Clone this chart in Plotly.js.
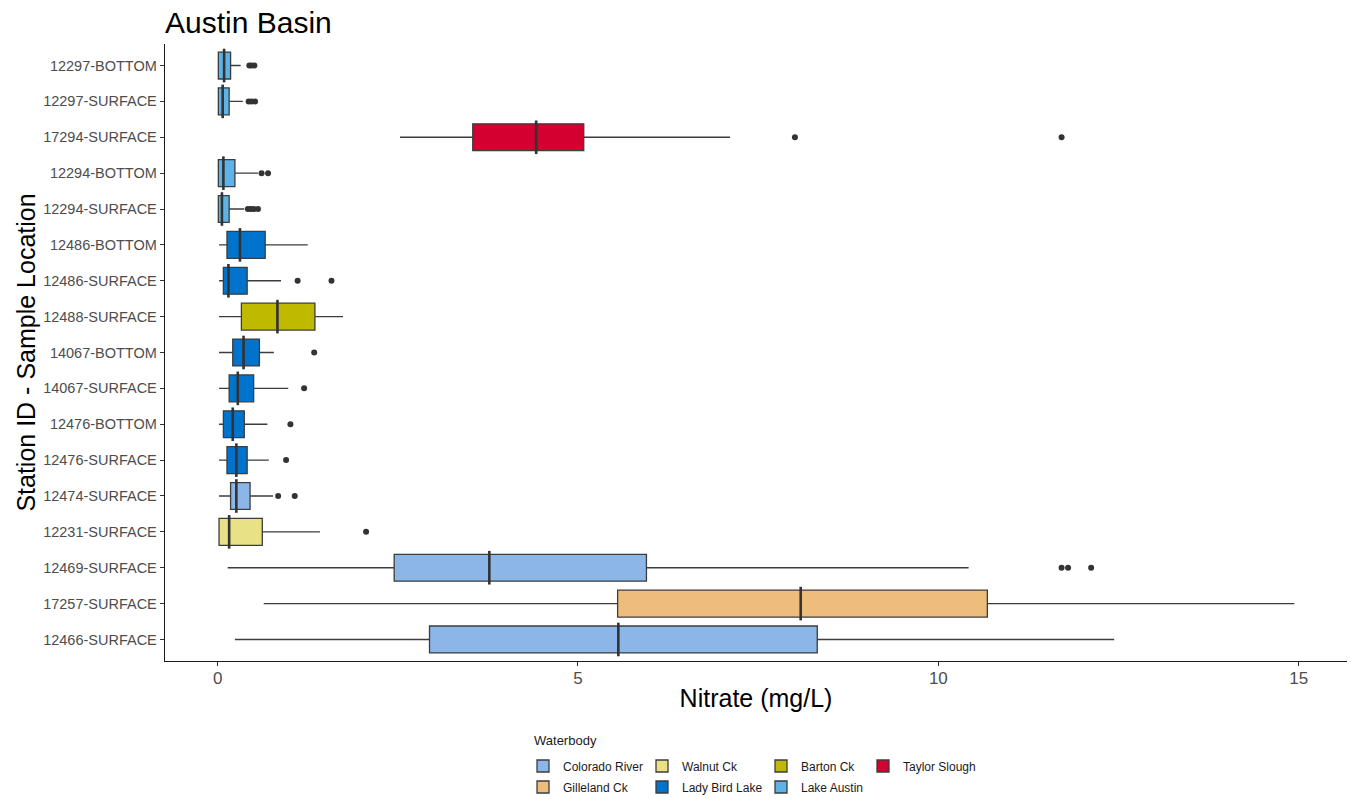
<!DOCTYPE html>
<html>
<head>
<meta charset="utf-8">
<script src="https://cdn.plot.ly/plotly-3.0.1.min.js"></script>
<style>html,body{margin:0;padding:0;background:#fff;}#chart{width:1351px;height:799px;}</style>
</head>
<body>
<div id="chart"></div>
<script>
// Stations listed top to bottom as drawn
const stations = ["12297-BOTTOM","12297-SURFACE","17294-SURFACE","12294-BOTTOM","12294-SURFACE","12486-BOTTOM","12486-SURFACE","12488-SURFACE","14067-BOTTOM","14067-SURFACE","12476-BOTTOM","12476-SURFACE","12474-SURFACE","12231-SURFACE","12469-SURFACE","17257-SURFACE","12466-SURFACE"];
const waterbody = ["Lake Austin","Lake Austin","Taylor Slough","Lake Austin","Lake Austin","Lady Bird Lake","Lady Bird Lake","Barton Ck","Lady Bird Lake","Lady Bird Lake","Lady Bird Lake","Lady Bird Lake","Colorado River","Walnut Ck","Colorado River","Gilleland Ck","Colorado River"];
const lowerWhisker = [0.01,0.01,2.53,0.01,0.01,0.02,0.02,0.02,0.02,0.02,0.02,0.02,0.02,0.02,0.14,0.64,0.24];
const q1 =           [0.01,0.01,3.54,0.01,0.01,0.13,0.08,0.33,0.21,0.16,0.08,0.13,0.18,0.02,2.45,5.55,2.94];
const median =       [0.09,0.07,4.42,0.08,0.06,0.31,0.15,0.83,0.36,0.28,0.21,0.26,0.26,0.16,3.77,8.09,5.56];
const q3 =           [0.18,0.16,5.08,0.24,0.16,0.66,0.41,1.35,0.58,0.50,0.37,0.41,0.45,0.62,5.95,10.68,8.32];
const upperWhisker = [0.32,0.35,7.11,0.56,0.37,1.25,0.88,1.74,0.78,0.98,0.69,0.71,0.77,1.42,10.42,14.94,12.44];

// Outliers
const outlierStation = ["12297-BOTTOM","12297-BOTTOM","12297-BOTTOM","12297-SURFACE","12297-SURFACE","12297-SURFACE","17294-SURFACE","17294-SURFACE","12294-BOTTOM","12294-BOTTOM","12294-SURFACE","12294-SURFACE","12294-SURFACE","12294-SURFACE","12486-SURFACE","12486-SURFACE","14067-BOTTOM","14067-SURFACE","12476-BOTTOM","12476-SURFACE","12474-SURFACE","12474-SURFACE","12231-SURFACE","12469-SURFACE","12469-SURFACE","12469-SURFACE"];
const outlierValue = [0.44,0.47,0.51,0.43,0.47,0.52,8.01,11.71,0.61,0.70,0.42,0.46,0.50,0.56,1.11,1.58,1.34,1.20,1.01,0.95,0.84,1.07,2.06,11.71,11.80,12.12];

const waterbodies = ["Colorado River","Gilleland Ck","Walnut Ck","Lady Bird Lake","Barton Ck","Lake Austin","Taylor Slough"];
const colors = ["#8db6e8","#efbd7b","#e8e186","#0074cc","#bfba00","#5cb3e8","#d4002f"];
// legend slot (column, row) of each waterbody in the key
const legendCol = [0, 0, 1, 1, 2, 2, 3];
const legendRow = [0, 1, 0, 1, 0, 1, 0];

const traces = [];
waterbodies.forEach((wb, k) => {
  const idx = stations.map((s, i) => i).filter(i => waterbody[i] === wb);
  traces.push({
    type: "box",
    orientation: "h",
    name: wb,
    legend: k === 0 ? "legend" : "legend" + (k + 1),
    y: idx.map(i => stations[i]),
    lowerfence: idx.map(i => lowerWhisker[i]),
    q1: idx.map(i => q1[i]),
    median: idx.map(i => median[i]),
    q3: idx.map(i => q3[i]),
    upperfence: idx.map(i => upperWhisker[i]),
    boxpoints: false,
    width: 0.75,
    whiskerwidth: 0,
    fillcolor: colors[k],
    line: {color: "#3c3c3c", width: 1.3},
    hoverinfo: "x"
  });
});
// thicker median bars (ggplot draws the median at double width)
traces.push({
  type: "scatter",
  mode: "markers",
  x: median,
  y: stations,
  marker: {symbol: "line-ns", size: 24, color: "#333333", line: {color: "#333333", width: 2.6}},
  showlegend: false,
  hoverinfo: "skip"
});
traces.push({
  type: "scatter",
  mode: "markers",
  x: outlierValue,
  y: outlierStation,
  marker: {color: "#333333", size: 6},
  showlegend: false,
  hoverinfo: "x"
});

const W = 1351, H = 799, L = 165, R = 4, PW = W - L - R;
const T = 44, B = 138, PH = H - T - B;
const px = p => (p - L) / PW;
const py = p => (H - B - p) / PH;
const legendFont = {family: "Liberation Sans, Arial, sans-serif", size: 12, color: "#1a1a1a"};
const colX = [523, 642, 761, 863];
const rowTop = [751.5, 772.5];

const layout = {
  width: W, height: H,
  margin: {l: L, r: R, t: T, b: B, autoexpand: false},
  paper_bgcolor: "#ffffff",
  plot_bgcolor: "#ffffff",
  font: {family: "Liberation Sans, Arial, sans-serif", color: "#1a1a1a"},
  title: {text: "Austin Basin", x: 0, xref: "paper", xanchor: "left", y: 1 - 22 / H, yanchor: "middle", font: {size: 30, color: "#000"}},
  boxmode: "overlay",
  showlegend: true,
  xaxis: {
    range: [-0.73, 15.67],
    tickvals: [0, 5, 10, 15],
    ticktext: ["0", "5", "10", "15"],
    showgrid: false, zeroline: false,
    showline: true, linecolor: "#1a1a1a", linewidth: 1.3,
    ticks: "outside", ticklen: 4, tickcolor: "#333", tickwidth: 1,
    ticklabelstandoff: -3,
    tickfont: {size: 17, color: "#4d4d4d"},
    title: {text: "Nitrate (mg/L)", font: {size: 25, color: "#000"}, standoff: 2},
    fixedrange: true
  },
  yaxis: {
    type: "category",
    categoryorder: "array",
    categoryarray: stations.slice().reverse(),
    range: [-0.6, 16.6],
    showgrid: false, zeroline: false,
    showline: true, linecolor: "#1a1a1a", linewidth: 1.3,
    ticks: "outside", ticklen: 4, tickcolor: "#333", tickwidth: 1,
    tickfont: {size: 14.5, color: "#4d4d4d"},
    title: {text: "Station ID - Sample Location", font: {size: 25, color: "#000"}, standoff: 0},
    fixedrange: true
  },
  annotations: [{
    text: "Waterbody", xref: "paper", yref: "paper", x: px(532), y: py(740.5), xanchor: "left", yanchor: "middle",
    showarrow: false, font: {size: 13, color: "#1a1a1a"}
  }]
};
waterbodies.forEach((wb, k) => {
  const key = k === 0 ? "legend" : "legend" + (k + 1);
  layout[key] = {
    orientation: "v",
    x: px(colX[legendCol[k]]), xanchor: "left",
    y: py(rowTop[legendRow[k]]), yanchor: "top",
    bgcolor: "rgba(0,0,0,0)", font: legendFont, itemwidth: 30
  };
});

Plotly.newPlot("chart", traces, layout, {displayModeBar: false, staticPlot: true});
</script>
</body>
</html>
